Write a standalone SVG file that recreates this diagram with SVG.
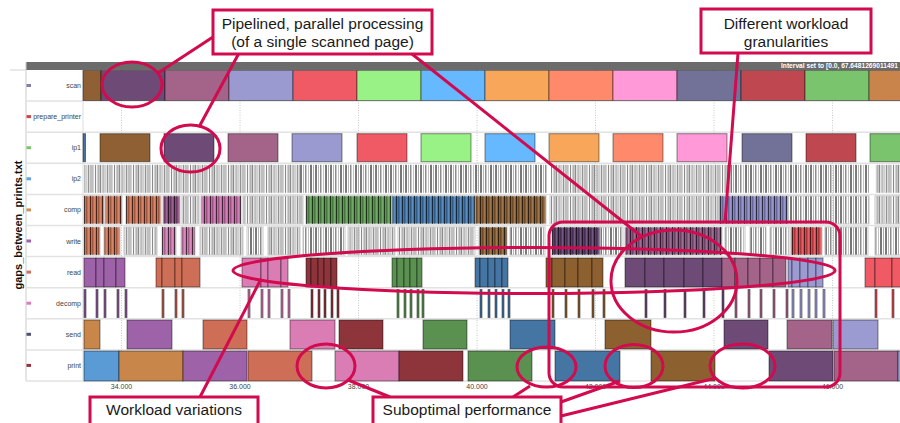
<svg xmlns="http://www.w3.org/2000/svg" width="900" height="423" viewBox="0 0 900 423">
  <defs>
    <style>
      .b { stroke: #000; stroke-opacity: .45; stroke-width: 1; }
      .gs { stroke: #c8c8c8; stroke-width: 1; }
      .sep { stroke: #e2e2e2; stroke-width: 1.5; }
      .grid { stroke: #c8c8c8; stroke-width: 1; stroke-dasharray: 1 1.5; }
      .lbl { font-family: "Liberation Sans", Arial, sans-serif; font-size: 7px; fill: #444; text-anchor: end; }
      .tick { font-family: "Liberation Sans", Arial, sans-serif; font-size: 7px; fill: #444; text-anchor: middle; }
      .ann { fill: none; stroke: #D20A4E; stroke-width: 3; }
      .box { fill: #fff; stroke: #D20A4E; stroke-width: 3; }
      .ct { font-family: "Liberation Sans", Arial, sans-serif; font-size: 15.5px; fill: #1a1a1a; text-anchor: middle; }
    </style>
    <!-- dense grey event stripes -->
    <pattern id="gA" patternUnits="userSpaceOnUse" width="19" height="40">
      <rect x="0" y="0" width="1" height="40" fill="#8a8a8a"/>
      <rect x="1.8" y="0" width="1" height="40" fill="#c4c4c4"/>
      <rect x="3.2" y="0" width="1.4" height="40" fill="#a0a0a0"/>
      <rect x="5.2" y="0" width="0.8" height="40" fill="#6e6e6e"/>
      <rect x="6.6" y="0" width="1.2" height="40" fill="#bcbcbc"/>
      <rect x="8.4" y="0" width="1" height="40" fill="#909090"/>
      <rect x="10" y="0" width="1.6" height="40" fill="#d0d0d0"/>
      <rect x="12.2" y="0" width="1" height="40" fill="#7a7a7a"/>
      <rect x="13.8" y="0" width="1" height="40" fill="#b0b0b0"/>
      <rect x="15.4" y="0" width="1.2" height="40" fill="#959595"/>
      <rect x="17.2" y="0" width="0.9" height="40" fill="#c8c8c8"/>
    </pattern>
    <pattern id="gB" patternUnits="userSpaceOnUse" width="15" height="40">
      <rect x="0" y="0" width="2" height="40" fill="#7a7a7a"/>
      <rect x="3" y="0" width="1" height="40" fill="#b5b5b5"/>
      <rect x="5" y="0" width="1.5" height="40" fill="#8c8c8c"/>
      <rect x="8" y="0" width="1" height="40" fill="#c4c4c4"/>
      <rect x="10" y="0" width="2" height="40" fill="#777"/>
      <rect x="13" y="0" width="1" height="40" fill="#aaa"/>
    </pattern>
    <!-- dark overlay stripes for coloured event bursts -->
    <pattern id="k" patternUnits="userSpaceOnUse" width="6" height="40">
      <rect x="0" y="0" width="0.9" height="40" fill="#000" fill-opacity=".75"/>
      <rect x="2.5" y="0" width="0.6" height="40" fill="#000" fill-opacity=".45"/>
      <rect x="4.2" y="0" width="0.8" height="40" fill="#fff" fill-opacity=".18"/>
    </pattern>
  </defs>

  <rect width="900" height="423" fill="#fff"/>

  <!-- frame, header bar and grid -->
  <g id="frame">
    <rect x="26" y="62" width="874" height="8" fill="#6b6b6b"/>
    <text x="781" y="68.4" textLength="117" lengthAdjust="spacingAndGlyphs" font-family="'Liberation Sans', Arial, sans-serif" font-size="6.5" font-weight="bold" fill="#fff">Interval set to [0.0, 67.6481269011491</text>
    <line x1="10" y1="70" x2="26" y2="70" class="sep"/>
    <line x1="26" y1="62" x2="26" y2="381" stroke="#ccc" stroke-width="1"/>
    <line x1="83" y1="70" x2="83" y2="381" stroke="#ddd" stroke-width="1"/>
    <g>
      <line x1="26" y1="101.1" x2="900" y2="101.1" class="sep"/>
      <line x1="26" y1="132.2" x2="900" y2="132.2" class="sep"/>
      <line x1="26" y1="163.3" x2="900" y2="163.3" class="sep"/>
      <line x1="26" y1="194.4" x2="900" y2="194.4" class="sep"/>
      <line x1="26" y1="225.5" x2="900" y2="225.5" class="sep"/>
      <line x1="26" y1="256.6" x2="900" y2="256.6" class="sep"/>
      <line x1="26" y1="287.7" x2="900" y2="287.7" class="sep"/>
      <line x1="26" y1="318.8" x2="900" y2="318.8" class="sep"/>
      <line x1="26" y1="349.9" x2="900" y2="349.9" class="sep"/>
      <line x1="26" y1="381" x2="900" y2="381" class="sep"/>
    </g>
    <g>
      <line x1="121.5" y1="70" x2="121.5" y2="381" class="grid"/>
      <line x1="240" y1="70" x2="240" y2="381" class="grid"/>
      <line x1="358.5" y1="70" x2="358.5" y2="381" class="grid"/>
      <line x1="477" y1="70" x2="477" y2="381" class="grid"/>
      <line x1="595.5" y1="70" x2="595.5" y2="381" class="grid"/>
      <line x1="714" y1="70" x2="714" y2="381" class="grid"/>
      <line x1="832.5" y1="70" x2="832.5" y2="381" class="grid"/>
    </g>
    <g>
      <text class="tick" x="121.5" y="389">34.000</text>
      <text class="tick" x="240" y="389">36.000</text>
      <text class="tick" x="358.5" y="389">38.000</text>
      <text class="tick" x="477" y="389">40.000</text>
      <text class="tick" x="595.5" y="389">42.000</text>
      <text class="tick" x="714" y="389">44.000</text>
      <text class="tick" x="832.5" y="389">46.000</text>
    </g>
    <text transform="translate(22,225) rotate(-90)" text-anchor="middle" font-family="'Liberation Sans', Arial, sans-serif" font-size="11" font-weight="bold" fill="#111">gaps_between_prints.txt</text>
  </g>

  <!-- row labels -->
  <g id="labels">
    <rect x="26.5" y="84" width="4.5" height="3" fill="#8080b0"/><text class="lbl" x="81" y="88">scan</text>
    <rect x="26.5" y="115.1" width="4.5" height="3" fill="#d04444"/><text class="lbl" x="81" y="119.1">prepare_printer</text>
    <rect x="26.5" y="146.2" width="4.5" height="3" fill="#7cc46e"/><text class="lbl" x="81" y="150.2">ip1</text>
    <rect x="26.5" y="177.3" width="4.5" height="3" fill="#5ba5e0"/><text class="lbl" x="81" y="181.3">ip2</text>
    <rect x="26.5" y="208.4" width="4.5" height="3" fill="#d09050"/><text class="lbl" x="81" y="212.4">comp</text>
    <rect x="26.5" y="239.5" width="4.5" height="3" fill="#a060b0"/><text class="lbl" x="81" y="243.5">write</text>
    <rect x="26.5" y="270.6" width="4.5" height="3" fill="#d07060"/><text class="lbl" x="81" y="274.6">read</text>
    <rect x="26.5" y="301.7" width="4.5" height="3" fill="#e07ac0"/><text class="lbl" x="81" y="305.7">decomp</text>
    <rect x="26.5" y="332.8" width="4.5" height="3" fill="#505070"/><text class="lbl" x="81" y="336.8">send</text>
    <rect x="26.5" y="363.9" width="4.5" height="3" fill="#9a3040"/><text class="lbl" x="81" y="367.9">print</text>
  </g>

  <!-- scan -->
  <g id="row-scan">
    <rect class="b" x="83" y="70.5" width="18" height="30" fill="#8e6033"/>
    <rect class="b" x="101" y="70.5" width="64" height="30" fill="#6e4a77"/>
    <rect class="b" x="165" y="70.5" width="64" height="30" fill="#a46489"/>
    <rect class="b" x="229" y="70.5" width="64" height="30" fill="#9a9ad0"/>
    <rect class="b" x="293" y="70.5" width="64" height="30" fill="#f05a64"/>
    <rect class="b" x="357" y="70.5" width="64" height="30" fill="#99f285"/>
    <rect class="b" x="421" y="70.5" width="64" height="30" fill="#66b8ff"/>
    <rect class="b" x="485" y="70.5" width="64" height="30" fill="#f8a75a"/>
    <rect class="b" x="549" y="70.5" width="64" height="30" fill="#ff8a6b"/>
    <rect class="b" x="613" y="70.5" width="64" height="30" fill="#ff99d8"/>
    <rect class="b" x="677" y="70.5" width="64" height="30" fill="#727299"/>
    <rect class="b" x="741" y="70.5" width="64" height="30" fill="#bf4750"/>
    <rect class="b" x="805" y="70.5" width="64" height="30" fill="#7ac46e"/>
    <rect class="b" x="869" y="70.5" width="40" height="30" fill="#c8844a"/>
  </g>

  <!-- prepare_printer: no events -->
  <g id="row-prepare_printer"/>

  <!-- ip1 -->
  <g id="row-ip1">
    <rect class="b" x="83" y="133.7" width="2.5" height="28" fill="#4575a3"/>
    <rect class="b" x="100" y="133.7" width="50" height="28" fill="#8e6033"/>
    <rect class="b" x="164" y="133.7" width="50" height="28" fill="#6e4a77"/>
    <rect class="b" x="228" y="133.7" width="50" height="28" fill="#a46489"/>
    <rect class="b" x="292" y="133.7" width="50" height="28" fill="#9a9ad0"/>
    <rect class="b" x="357" y="133.7" width="50" height="28" fill="#f05a64"/>
    <rect class="b" x="421" y="133.7" width="50" height="28" fill="#99f285"/>
    <rect class="b" x="485" y="133.7" width="50" height="28" fill="#66b8ff"/>
    <rect class="b" x="549" y="133.7" width="50" height="28" fill="#f8a75a"/>
    <rect class="b" x="613" y="133.7" width="50" height="28" fill="#ff8a6b"/>
    <rect class="b" x="677" y="133.7" width="50" height="28" fill="#ff99d8"/>
    <rect class="b" x="742" y="133.7" width="50" height="28" fill="#727299"/>
    <rect class="b" x="806" y="133.7" width="50" height="28" fill="#bf4750"/>
    <rect class="b" x="870" y="133.7" width="50" height="28" fill="#7ac46e"/>
  </g>

  <!-- ip2 -->
  <g id="row-ip2">
    <rect x="84" y="164.8" width="216" height="28" fill="url(#gA)"/>
    <rect x="300" y="164.8" width="248" height="28" fill="url(#gB)"/>
    <rect x="551" y="164.8" width="180" height="28" fill="url(#gA)"/>
    <rect x="731" y="164.8" width="139" height="28" fill="url(#gB)"/>
    <rect x="875" y="164.8" width="25" height="28" fill="url(#gA)"/>
  </g>

  <!-- comp -->
  <g id="row-comp">
    <rect class="gs" x="182" y="195.9" width="17" height="28" fill="url(#gA)"/>
    <rect class="gs" x="243" y="195.9" width="60" height="28" fill="url(#gA)"/>
    <rect class="gs" x="550" y="195.9" width="169" height="28" fill="url(#gA)"/>
    <rect class="gs" x="788" y="195.9" width="81" height="28" fill="url(#gB)"/>
    <rect class="gs" x="875" y="195.9" width="30" height="28" fill="url(#gA)"/>
    <g>
      <rect class="gs" x="84" y="195.9" width="20" height="28" fill="#d0704f"/>
      <rect class="gs" x="105" y="195.9" width="17" height="28" fill="#d0704f"/>
      <rect class="gs" x="126" y="195.9" width="35" height="28" fill="#d0704f"/>
      <rect class="gs" x="163" y="195.9" width="17" height="28" fill="#8a4a80"/>
      <rect class="gs" x="201" y="195.9" width="40" height="28" fill="#c86aaa"/>
      <rect class="gs" x="306" y="195.9" width="86" height="28" fill="#5a9a4e"/>
      <rect class="gs" x="392" y="195.9" width="83" height="28" fill="#3f78b0"/>
      <rect class="gs" x="475" y="195.9" width="71" height="28" fill="#8d6030"/>
      <rect class="gs" x="719" y="195.9" width="69" height="28" fill="#8585c5"/>
    </g>
    <g fill="url(#k)">
      <rect x="84" y="195.9" width="20" height="28"/>
      <rect x="105" y="195.9" width="17" height="28"/>
      <rect x="126" y="195.9" width="35" height="28"/>
      <rect x="163" y="195.9" width="17" height="28"/>
      <rect x="201" y="195.9" width="40" height="28"/>
      <rect x="306" y="195.9" width="86" height="28"/>
      <rect x="392" y="195.9" width="83" height="28"/>
      <rect x="475" y="195.9" width="71" height="28"/>
      <rect x="719" y="195.9" width="69" height="28"/>
    </g>
  </g>

  <!-- write -->
  <g id="row-write">
    <rect class="gs" x="124" y="227" width="33" height="28" fill="url(#gA)"/>
    <rect class="gs" x="200" y="227" width="43" height="28" fill="url(#gA)"/>
    <rect class="gs" x="247" y="227" width="16" height="28" fill="url(#gB)"/>
    <rect class="gs" x="268" y="227" width="32" height="28" fill="url(#gA)"/>
    <rect class="gs" x="303" y="227" width="42" height="28" fill="url(#gB)"/>
    <rect class="gs" x="348" y="227" width="47" height="28" fill="url(#gA)"/>
    <rect class="gs" x="398" y="227" width="77" height="28" fill="url(#gA)"/>
    <rect class="gs" x="510" y="227" width="35" height="28" fill="url(#gB)"/>
    <rect class="gs" x="600" y="227" width="23" height="28" fill="url(#gB)"/>
    <rect class="gs" x="725" y="227" width="20" height="28" fill="url(#gB)"/>
    <rect class="gs" x="750" y="227" width="16" height="28" fill="url(#gB)"/>
    <rect class="gs" x="770" y="227" width="20" height="28" fill="url(#gB)"/>
    <rect class="gs" x="825" y="227" width="43" height="28" fill="url(#gB)"/>
    <rect class="gs" x="875" y="227" width="30" height="28" fill="url(#gB)"/>
    <g>
      <rect class="gs" x="84" y="227" width="16" height="28" fill="#d0704f"/>
      <rect class="gs" x="104" y="227" width="16" height="28" fill="#d0704f"/>
      <rect class="gs" x="162" y="227" width="14" height="28" fill="#d07ab0"/>
      <rect class="gs" x="181" y="227" width="14" height="28" fill="#d07ab0"/>
      <rect class="gs" x="479" y="227" width="28" height="28" fill="#8d6030"/>
      <rect class="gs" x="552" y="227" width="48" height="28" fill="#5e3c6c"/>
      <rect class="gs" x="625" y="227" width="97" height="28" fill="#8e5484"/>
      <rect class="gs" x="791" y="227" width="31" height="28" fill="#e0464e"/>
    </g>
    <g fill="url(#k)">
      <rect x="84" y="227" width="16" height="28"/>
      <rect x="104" y="227" width="16" height="28"/>
      <rect x="162" y="227" width="14" height="28"/>
      <rect x="181" y="227" width="14" height="28"/>
      <rect x="479" y="227" width="28" height="28"/>
      <rect x="552" y="227" width="48" height="28"/>
      <rect x="625" y="227" width="97" height="28"/>
      <rect x="791" y="227" width="31" height="28"/>
    </g>
  </g>

  <!-- read -->
  <g id="row-read">
    <g fill="#9e62a8">
      <rect class="b" x="84" y="258" width="12" height="29"/>
      <rect class="b" x="96" y="258" width="8" height="29"/>
      <rect class="b" x="104" y="258" width="12" height="29"/>
      <rect class="b" x="116" y="258" width="9" height="29"/>
    </g>
    <g fill="#cf6e57">
      <rect class="b" x="156" y="258" width="6" height="29"/>
      <rect class="b" x="162" y="258" width="13" height="29"/>
      <rect class="b" x="175" y="258" width="7" height="29"/>
      <rect class="b" x="182" y="258" width="18" height="29"/>
    </g>
    <g fill="#db7db5">
      <rect class="b" x="242" y="258" width="19" height="29"/>
      <rect class="b" x="261" y="258" width="7" height="29"/>
      <rect class="b" x="268" y="258" width="13" height="29"/>
      <rect class="b" x="281" y="258" width="7" height="29"/>
    </g>
    <g fill="#8e353c">
      <rect class="b" x="306" y="258" width="5" height="29"/>
      <rect class="b" x="311" y="258" width="7" height="29"/>
      <rect class="b" x="318" y="258" width="6" height="29"/>
      <rect class="b" x="324" y="258" width="7" height="29"/>
      <rect class="b" x="331" y="258" width="6" height="29"/>
    </g>
    <g fill="#5a9150">
      <rect class="b" x="392" y="258" width="5" height="29"/>
      <rect class="b" x="397" y="258" width="7" height="29"/>
      <rect class="b" x="404" y="258" width="6" height="29"/>
      <rect class="b" x="410" y="258" width="7" height="29"/>
      <rect class="b" x="417" y="258" width="5" height="29"/>
    </g>
    <g fill="#4575a3">
      <rect class="b" x="475" y="258" width="5" height="29"/>
      <rect class="b" x="480" y="258" width="8" height="29"/>
      <rect class="b" x="488" y="258" width="7" height="29"/>
      <rect class="b" x="495" y="258" width="7" height="29"/>
      <rect class="b" x="502" y="258" width="6" height="29"/>
    </g>
    <g fill="#8d6030">
      <rect class="b" x="546" y="258" width="6" height="29"/>
      <rect class="b" x="552" y="258" width="13" height="29"/>
      <rect class="b" x="565" y="258" width="13" height="29"/>
      <rect class="b" x="578" y="258" width="14" height="29"/>
      <rect class="b" x="592" y="258" width="11" height="29"/>
    </g>
    <g fill="#6e4a77">
      <rect class="b" x="625" y="258" width="20" height="29"/>
      <rect class="b" x="645" y="258" width="19" height="29"/>
      <rect class="b" x="664" y="258" width="20" height="29"/>
      <rect class="b" x="684" y="258" width="19" height="29"/>
      <rect class="b" x="703" y="258" width="19" height="29"/>
    </g>
    <g fill="#a46489">
      <rect class="b" x="722" y="258" width="13" height="29"/>
      <rect class="b" x="735" y="258" width="13" height="29"/>
      <rect class="b" x="748" y="258" width="12" height="29"/>
      <rect class="b" x="760" y="258" width="13" height="29"/>
      <rect class="b" x="773" y="258" width="13" height="29"/>
    </g>
    <g fill="#9b9bd1">
      <rect class="b" x="788" y="258" width="4" height="29"/>
      <rect class="b" x="792" y="258" width="8" height="29"/>
      <rect class="b" x="800" y="258" width="8" height="29"/>
      <rect class="b" x="808" y="258" width="8" height="29"/>
      <rect class="b" x="816" y="258" width="7" height="29"/>
    </g>
    <g fill="#f05a64">
      <rect class="b" x="865" y="258" width="10" height="29"/>
      <rect class="b" x="875" y="258" width="17" height="29"/>
      <rect class="b" x="892" y="258" width="18" height="29"/>
    </g>
  </g>

  <!-- decomp -->
  <g id="row-decomp">
    <g fill="#8e5a9a">
      <rect class="b" x="84" y="289.5" width="2" height="28"/>
      <rect class="b" x="96" y="289.5" width="2" height="28"/>
      <rect class="b" x="104" y="289.5" width="2" height="28"/>
      <rect class="b" x="117" y="289.5" width="2" height="28"/>
      <rect class="b" x="125" y="289.5" width="2" height="28"/>
    </g>
    <g fill="#b8604c">
      <rect class="b" x="162" y="289.5" width="2" height="28"/>
      <rect class="b" x="175" y="289.5" width="2" height="28"/>
      <rect class="b" x="182" y="289.5" width="2" height="28"/>
    </g>
    <g fill="#c870a8">
      <rect class="b" x="248" y="289.5" width="2" height="28"/>
      <rect class="b" x="261" y="289.5" width="2" height="28"/>
      <rect class="b" x="268" y="289.5" width="2" height="28"/>
      <rect class="b" x="281" y="289.5" width="2" height="28"/>
      <rect class="b" x="288" y="289.5" width="2" height="28"/>
    </g>
    <g fill="#8e353c">
      <rect class="b" x="311" y="289.5" width="2" height="28"/>
      <rect class="b" x="318" y="289.5" width="2" height="28"/>
      <rect class="b" x="324" y="289.5" width="2" height="28"/>
      <rect class="b" x="331" y="289.5" width="2" height="28"/>
      <rect class="b" x="337" y="289.5" width="2" height="28"/>
    </g>
    <g fill="#5a9150">
      <rect class="b" x="397" y="289.5" width="2" height="28"/>
      <rect class="b" x="404" y="289.5" width="2" height="28"/>
      <rect class="b" x="410" y="289.5" width="2" height="28"/>
      <rect class="b" x="417" y="289.5" width="2" height="28"/>
      <rect class="b" x="422" y="289.5" width="2" height="28"/>
    </g>
    <g fill="#4575a3">
      <rect class="b" x="480" y="289.5" width="2" height="28"/>
      <rect class="b" x="488" y="289.5" width="2" height="28"/>
      <rect class="b" x="495" y="289.5" width="2" height="28"/>
      <rect class="b" x="502" y="289.5" width="2" height="28"/>
      <rect class="b" x="508" y="289.5" width="2" height="28"/>
    </g>
    <g fill="#8d6030">
      <rect class="b" x="552" y="289.5" width="2" height="28"/>
      <rect class="b" x="565" y="289.5" width="2" height="28"/>
      <rect class="b" x="578" y="289.5" width="2" height="28"/>
      <rect class="b" x="592" y="289.5" width="2" height="28"/>
      <rect class="b" x="603" y="289.5" width="2" height="28"/>
    </g>
    <g fill="#6e4a77">
      <rect class="b" x="645" y="289.5" width="2" height="28"/>
      <rect class="b" x="664" y="289.5" width="2" height="28"/>
      <rect class="b" x="684" y="289.5" width="2" height="28"/>
      <rect class="b" x="703" y="289.5" width="2" height="28"/>
      <rect class="b" x="722" y="289.5" width="2" height="28"/>
    </g>
    <g fill="#a46489">
      <rect class="b" x="735" y="289.5" width="2" height="28"/>
      <rect class="b" x="748" y="289.5" width="2" height="28"/>
      <rect class="b" x="760" y="289.5" width="2" height="28"/>
      <rect class="b" x="773" y="289.5" width="2" height="28"/>
      <rect class="b" x="786" y="289.5" width="2" height="28"/>
    </g>
    <g fill="#9b9bd1">
      <rect class="b" x="792" y="289.5" width="2" height="28"/>
      <rect class="b" x="800" y="289.5" width="2" height="28"/>
      <rect class="b" x="808" y="289.5" width="2" height="28"/>
      <rect class="b" x="815" y="289.5" width="2" height="28"/>
      <rect class="b" x="823" y="289.5" width="2" height="28"/>
    </g>
    <g fill="#e0464e">
      <rect class="b" x="875" y="289.5" width="2" height="28"/>
      <rect class="b" x="892" y="289.5" width="2" height="28"/>
    </g>
  </g>

  <!-- send -->
  <g id="row-send">
    <rect class="b" x="84" y="320" width="16" height="29" fill="#c8864a"/>
    <rect class="b" x="127" y="320" width="45" height="29" fill="#9e62a8"/>
    <rect class="b" x="203" y="320" width="44" height="29" fill="#cf6e57"/>
    <rect class="b" x="290" y="320" width="45" height="29" fill="#db7db5"/>
    <rect class="b" x="339" y="320" width="44" height="29" fill="#8e353c"/>
    <rect class="b" x="423" y="320" width="44" height="29" fill="#5a9150"/>
    <rect class="b" x="510" y="320" width="45" height="29" fill="#4575a3"/>
    <rect class="b" x="605" y="320" width="46" height="29" fill="#8d6030"/>
    <rect class="b" x="724" y="320" width="44" height="29" fill="#6e4a77"/>
    <rect class="b" x="787" y="320" width="45" height="29" fill="#a46489"/>
    <rect class="b" x="833" y="320" width="45" height="29" fill="#9b9bd1"/>
  </g>

  <!-- print -->
  <g id="row-print">
    <rect class="b" x="84" y="351" width="35" height="30" fill="#5b9bd5"/>
    <rect class="b" x="119" y="351" width="64" height="30" fill="#c8864a"/>
    <rect class="b" x="183" y="351" width="64" height="30" fill="#9e62a8"/>
    <rect class="b" x="248" y="351" width="64" height="30" fill="#cf6e57"/>
    <rect class="b" x="335" y="351" width="64" height="30" fill="#db7db5"/>
    <rect class="b" x="399" y="351" width="64" height="30" fill="#8e353c"/>
    <rect class="b" x="468" y="351" width="64" height="30" fill="#5a9150"/>
    <rect class="b" x="555" y="351" width="65" height="30" fill="#4575a3"/>
    <rect class="b" x="651" y="351" width="64" height="30" fill="#8d6030"/>
    <rect class="b" x="769" y="351" width="64" height="30" fill="#6e4a77"/>
    <rect class="b" x="834" y="351" width="64" height="30" fill="#a46489"/>
    <rect class="b" x="898" y="351" width="12" height="30" fill="#9b9bd1"/>
  </g>

  <!-- highlight marks -->
  <g id="highlights">
    <ellipse class="ann" cx="132" cy="84.5" rx="30" ry="22.5"/>
    <ellipse class="ann" cx="190.5" cy="148.5" rx="29.5" ry="23.5"/>
    <ellipse class="ann" cx="674" cy="281" rx="63" ry="51"/>
    <ellipse class="ann" cx="534" cy="270.5" rx="301" ry="23"/>
    <rect class="ann" x="549" y="222" width="291" height="165" rx="14"/>
    <ellipse class="ann" cx="326" cy="366" rx="29" ry="22"/>
    <ellipse class="ann" cx="546.5" cy="367" rx="29.5" ry="20"/>
    <ellipse class="ann" cx="634" cy="366" rx="29" ry="21.5"/>
    <ellipse class="ann" cx="742.5" cy="366" rx="32.5" ry="22"/>
  </g>

  <!-- connectors -->
  <g id="connectors">
    <line class="ann" x1="213" y1="37" x2="158" y2="73"/>
    <line class="ann" x1="238.5" y1="54" x2="199" y2="127"/>
    <line class="ann" x1="412" y1="54" x2="641" y2="236"/>
    <line class="ann" x1="738" y1="53" x2="725" y2="222"/>
    <line class="ann" x1="200" y1="397" x2="261" y2="279"/>
    <line class="ann" x1="390" y1="397" x2="348" y2="380"/>
    <line class="ann" x1="513" y1="397" x2="530" y2="386"/>
    <line class="ann" x1="561" y1="402" x2="620" y2="381"/>
    <line class="ann" x1="561" y1="416" x2="716" y2="378"/>
  </g>

  <!-- callouts -->
  <g id="callout-pipelined">
    <rect class="box" x="213" y="10" width="219" height="44"/>
    <text class="ct" x="322.5" y="28.5">Pipelined, parallel processing</text>
    <text class="ct" x="322.5" y="46.5">(of a single scanned page)</text>
  </g>
  <g id="callout-granularities">
    <rect class="box" x="701" y="9" width="170" height="44"/>
    <text class="ct" x="786" y="28.5">Different workload</text>
    <text class="ct" x="786" y="46.5">granularities</text>
  </g>
  <g id="callout-variations">
    <rect class="box" x="90" y="397" width="168" height="40"/>
    <text class="ct" x="174" y="415">Workload variations</text>
  </g>
  <g id="callout-suboptimal">
    <rect class="box" x="373" y="397" width="188" height="40"/>
    <text class="ct" x="467" y="415">Suboptimal performance</text>
  </g>
</svg>
